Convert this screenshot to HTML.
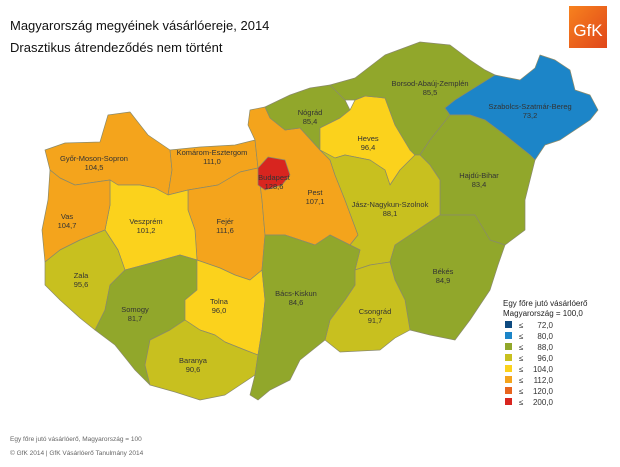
<!DOCTYPE html>
<html><head><meta charset="utf-8"><style>
body{margin:0;background:#fff;width:620px;height:462px;overflow:hidden;font-family:"Liberation Sans",sans-serif}
</style></head><body>
<svg width="620" height="462" viewBox="0 0 620 462" xmlns="http://www.w3.org/2000/svg" font-family="Liberation Sans, sans-serif">
<defs><linearGradient id="g" x1="0" y1="0" x2="1" y2="1"><stop offset="0" stop-color="#f7821e"/><stop offset="1" stop-color="#e0461a"/></linearGradient></defs>
<text x="10" y="30" font-size="13" fill="#111">Magyarország megyéinek vásárlóereje, 2014</text>
<text x="10" y="52" font-size="13" fill="#111">Drasztikus átrendeződés nem történt</text>
<rect x="569" y="6" width="38" height="42" fill="url(#g)"/>
<text x="588" y="36" font-size="17" fill="#fff" text-anchor="middle">GfK</text>
<g stroke="#8a8a6a" stroke-width="0.7" stroke-linejoin="round">
<polygon fill="#f4a41c" points="45,150 65,143 100,142 108,115 130,112 148,135 170,150 172,170 168,195 155,188 140,185 118,185 110,180 75,185 60,178 50,170"/>
<polygon fill="#f4a41c" points="170,150 200,147 235,145 255,140 258,168 240,172 218,185 188,190 168,195 172,170"/>
<polygon fill="#f4a41c" points="188,190 218,185 240,172 258,168 262,200 265,235 262,270 250,280 235,275 220,268 197,260 195,230 188,210"/>
<polygon fill="#fbd21c" points="110,180 118,185 140,185 155,188 168,195 188,190 188,210 195,230 197,260 180,255 155,262 125,270 118,250 105,230 110,205"/>
<polygon fill="#f4a41c" points="50,170 60,178 75,185 110,180 110,205 105,230 80,240 60,250 45,262 42,230 48,200"/>
<polygon fill="#c8c01f" points="45,262 60,250 80,240 105,230 118,250 125,270 110,285 105,310 95,330 80,318 60,300 45,285"/>
<polygon fill="#91a72b" points="125,270 155,262 180,255 197,260 197,290 185,300 185,320 170,330 150,340 145,365 150,385 135,370 115,345 95,330 105,310 110,285"/>
<polygon fill="#fbd21c" points="197,260 220,268 235,275 250,280 262,270 265,300 262,330 258,355 245,350 225,342 215,335 200,330 185,320 185,300 197,290"/>
<polygon fill="#c8c01f" points="150,340 170,330 185,320 200,330 215,335 225,342 245,350 258,355 255,375 240,385 225,395 200,400 175,392 150,385 145,365"/>
<polygon fill="#f4a41c" points="250,110 265,107 270,118 285,130 300,128 320,150 330,160 335,175 345,200 358,235 350,245 330,235 315,245 300,240 285,235 265,235 262,200 258,168 255,140 248,125"/>
<polygon fill="#d8251f" points="258,168 268,157 285,160 290,175 282,185 265,190 258,185"/>
<polygon fill="#91a72b" points="265,107 290,95 310,88 330,85 345,100 350,110 340,118 320,128 320,150 300,128 285,130 270,118"/>
<polygon fill="#fbd21c" points="340,118 350,110 355,100 365,96 385,98 395,125 410,150 415,155 400,170 390,185 385,170 370,160 345,155 335,158 320,150 320,128"/>
<polygon fill="#91a72b" points="330,85 355,78 385,55 420,42 450,45 470,60 485,70 495,75 455,100 445,108 450,115 430,140 420,155 415,155 410,150 395,125 385,98 365,96 355,100 345,100"/>
<polygon fill="#1c85c8" points="445,108 455,100 495,75 520,80 535,68 540,55 555,60 570,70 575,90 590,95 598,110 590,120 575,130 560,140 545,145 535,160 530,155 505,135 485,120 470,115 450,115"/>
<polygon fill="#91a72b" points="450,115 470,115 485,120 505,135 530,155 535,160 530,180 525,200 525,230 505,245 490,240 475,215 440,215 440,180 430,165 420,155 430,140"/>
<polygon fill="#c8c01f" points="320,150 335,158 345,155 370,160 385,170 390,185 400,170 415,155 420,155 430,165 440,180 440,215 425,225 395,245 390,262 370,265 355,270 360,250 350,245 358,235 345,200 335,175 330,160"/>
<polygon fill="#91a72b" points="440,215 475,215 490,240 505,245 498,265 490,290 470,320 455,340 430,335 410,330 405,300 395,280 390,262 395,245 425,225"/>
<polygon fill="#c8c01f" points="355,270 370,265 390,262 395,280 405,300 410,330 395,338 380,350 340,352 325,340 330,320 345,300 355,285"/>
<polygon fill="#91a72b" points="262,270 265,235 285,235 300,240 315,245 330,235 350,245 360,250 355,270 355,285 345,300 330,320 325,340 300,360 290,380 270,390 258,400 250,395 255,375 258,355 262,330 265,300"/>
</g>
<g font-size="7.5" fill="#333" text-anchor="middle">
<text x="94" y="161">Győr-Moson-Sopron</text><text x="94" y="170">104,5</text>
<text x="212" y="155">Komárom-Esztergom</text><text x="212" y="164">111,0</text>
<text x="67" y="219">Vas</text><text x="67" y="228">104,7</text>
<text x="146" y="224">Veszprém</text><text x="146" y="233">101,2</text>
<text x="225" y="224">Fejér</text><text x="225" y="233">111,6</text>
<text x="81" y="278">Zala</text><text x="81" y="287">95,6</text>
<text x="135" y="312">Somogy</text><text x="135" y="321">81,7</text>
<text x="219" y="304">Tolna</text><text x="219" y="313">96,0</text>
<text x="193" y="363">Baranya</text><text x="193" y="372">90,6</text>
<text x="274" y="180">Budapest</text><text x="274" y="189">128,6</text>
<text x="315" y="195">Pest</text><text x="315" y="204">107,1</text>
<text x="310" y="115">Nógrád</text><text x="310" y="124">85,4</text>
<text x="368" y="141">Heves</text><text x="368" y="150">96,4</text>
<text x="430" y="86">Borsod-Abaúj-Zemplén</text><text x="430" y="95">85,5</text>
<text x="530" y="109">Szabolcs-Szatmár-Bereg</text><text x="530" y="118">73,2</text>
<text x="479" y="178">Hajdú-Bihar</text><text x="479" y="187">83,4</text>
<text x="390" y="207">Jász-Nagykun-Szolnok</text><text x="390" y="216">88,1</text>
<text x="443" y="274">Békés</text><text x="443" y="283">84,9</text>
<text x="375" y="314">Csongrád</text><text x="375" y="323">91,7</text>
<text x="296" y="296">Bács-Kiskun</text><text x="296" y="305">84,6</text>
</g>
<g font-size="8" fill="#222">
<text x="503" y="306">Egy főre jutó vásárlóerő</text>
<text x="503" y="316">Magyarország = 100,0</text>
</g>
<g font-size="8" fill="#333">
<rect x="505" y="321" width="7" height="7" fill="#0e4a80"/><text x="519" y="328">≤</text><text x="553" y="328" text-anchor="end">72,0</text>
<rect x="505" y="332" width="7" height="7" fill="#1c85c8"/><text x="519" y="339">≤</text><text x="553" y="339" text-anchor="end">80,0</text>
<rect x="505" y="343" width="7" height="7" fill="#91a72b"/><text x="519" y="350">≤</text><text x="553" y="350" text-anchor="end">88,0</text>
<rect x="505" y="354" width="7" height="7" fill="#c8c01f"/><text x="519" y="361">≤</text><text x="553" y="361" text-anchor="end">96,0</text>
<rect x="505" y="365" width="7" height="7" fill="#fbd21c"/><text x="519" y="372">≤</text><text x="553" y="372" text-anchor="end">104,0</text>
<rect x="505" y="376" width="7" height="7" fill="#f4a41c"/><text x="519" y="383">≤</text><text x="553" y="383" text-anchor="end">112,0</text>
<rect x="505" y="387" width="7" height="7" fill="#e8641e"/><text x="519" y="394">≤</text><text x="553" y="394" text-anchor="end">120,0</text>
<rect x="505" y="398" width="7" height="7" fill="#d8251f"/><text x="519" y="405">≤</text><text x="553" y="405" text-anchor="end">200,0</text>
</g>
<g font-size="6.5" fill="#666">
<text x="10" y="441">Egy főre jutó vásárlóerő, Magyarország = 100</text>
<text x="10" y="455">© GfK 2014 | GfK Vásárlóerő Tanulmány 2014</text>
</g>
</svg>
</body></html>
